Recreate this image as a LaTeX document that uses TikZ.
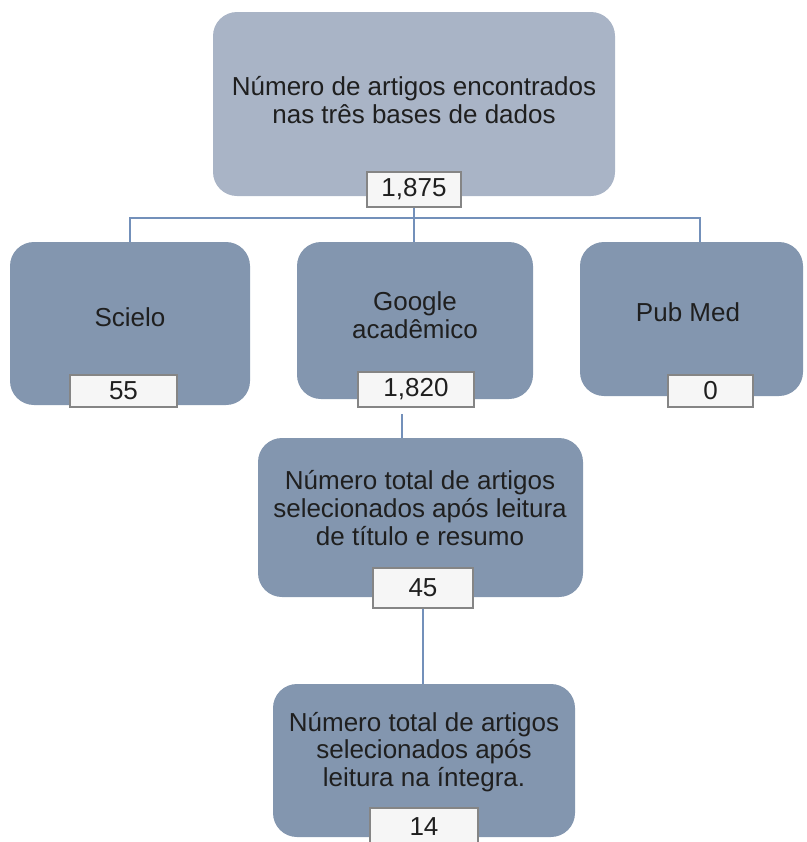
\documentclass[tikz,border=0pt]{standalone}
\usepackage{fontspec}
\setmainfont{Liberation Sans}
\usepackage{xcolor}
\definecolor{topfill}{HTML}{A9B4C6}
\definecolor{boxfill}{HTML}{8396AF}
\definecolor{linkcol}{HTML}{7390BA}
\definecolor{tagfill}{HTML}{F6F6F6}
\definecolor{tagline}{HTML}{858585}

\begin{document}
\begin{tikzpicture}[x=0.5pt,y=-0.5pt]

\tikzset{base/.style = {rounded corners=12pt,draw=none,fill=boxfill,inner sep=0pt}}
\tikzset{headbox/.style = {base,fill=topfill}}
\tikzset{tag/.style = {draw=tagline,fill=tagfill,inner sep=0pt,line width=0.6pt}}
\tikzset{txt/.style = {align=center,text=black!88,font=\fontsize{13}{13.8}\selectfont}}
\tikzset{edge/.style = {-,draw=linkcol,line width=1pt}}
\useasboundingbox (0,0) rectangle (807,842);

% boxes
\node[headbox,minimum width=201pt,minimum height=92pt] (top) at (414,104) {};
\node[base,minimum width=120pt,minimum height=81.5pt] (scielo) at (130,323.5) {};
\node[base,minimum width=118pt,minimum height=78.5pt] (google) at (415,320.5) {};
\node[base,minimum width=111.5pt,minimum height=77pt] (pubmed) at (691.5,319) {};
\node[base,minimum width=162.5pt,minimum height=79.5pt] (sel1) at (420.5,517.5) {};
\node[base,minimum width=151pt,minimum height=76.5pt] (sel2) at (424,760.5) {};

% texts
\node[txt] (toptxt) at (414,100) {Número de artigos encontrados\\nas três bases de dados};
\node[txt] (scielotxt) at (130,317) {Scielo};
\node[txt] (googletxt) at (415,315) {Google\\acadêmico};
\node[txt] (pubmedtxt) at (688,312) {Pub Med};
\node[txt] (sel1txt) at (420,508) {Número total de artigos\\selecionados após leitura\\de título e resumo};
\node[txt] (sel2txt) at (424,752) {Número total de artigos\\selecionados após\\leitura na íntegra.};

% numbers
\node[tag,txt,minimum width=47pt,minimum height=17.5pt] (n1875) at (414,189.5) {1,875};
\node[tag,txt,minimum width=53.5pt,minimum height=16pt] (n55) at (123.5,391) {55};
\node[tag,txt,minimum width=58pt,minimum height=17.5pt] (n1820) at (416,389.5) {1,820};
\node[tag,txt,minimum width=42.5pt,minimum height=16pt] (n0) at (710.5,391) {0};
\node[tag,txt,minimum width=50pt,minimum height=20pt] (n45) at (423,588) {45};
\node[tag,txt,minimum width=54pt,minimum height=19pt] (n14) at (424,827) {14};

\coordinate (busl) at (130,218);
\coordinate (busr) at (700,218);
\coordinate (drop) at (402,414);

%edges
\draw[edge] (n1875.south) -- (n1875.south |- google.north);
\draw[edge] (busl |- scielo.north) -- (busl) -- (busr) -- (busr |- pubmed.north);
\draw[edge] (drop) -- (drop |- sel1.north);
\draw[edge] (n45.south) -- (n45.south |- sel2.north);
\end{tikzpicture}
\end{document}
